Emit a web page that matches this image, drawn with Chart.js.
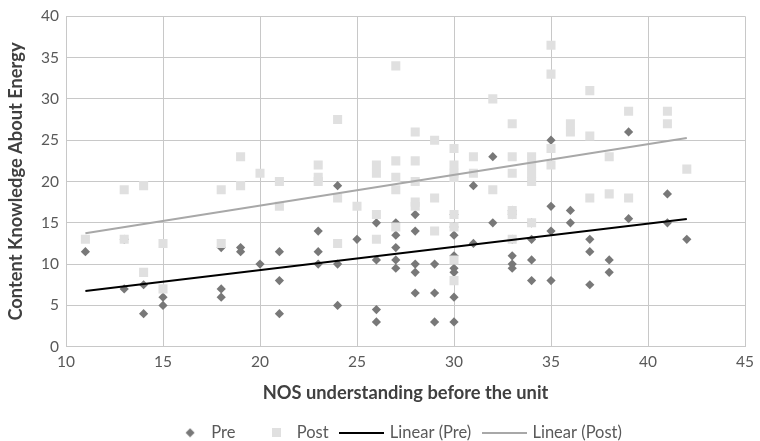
<!DOCTYPE html>
<html>
<head>
<meta charset="utf-8">
<script src="https://cdn.jsdelivr.net/npm/chart.js@4.4.1/dist/chart.umd.min.js"></script>
<style>
  html, body { margin: 0; padding: 0; background: #fff; }
</style>
</head>
<body>
<canvas id="energyChart" width="760" height="441"></canvas>
<script>
// NOS score before the unit (x) and content knowledge score (y)
var preX = [11, 13, 13, 14, 14, 15, 15, 18, 18, 18, 19, 19, 20, 21, 21, 21,
  23, 23, 23, 24, 24, 24, 25, 26, 26, 26, 26, 27, 27, 27, 27, 27,
  28, 28, 28, 28, 28, 29, 29, 29, 30, 30, 30, 30, 30, 30, 30, 30,
  31, 31, 32, 32, 33, 33, 33, 33, 33, 33, 34, 34, 34, 34, 34,
  35, 35, 35, 35, 36, 36, 37, 37, 37, 38, 38, 39, 39, 41, 41, 42];
var preY = [11.5, 7, 13, 7.5, 4, 6, 5, 12, 7, 6, 12, 11.5, 10, 11.5, 8, 4,
  14, 11.5, 10, 19.5, 10, 5, 13, 15, 10.5, 4.5, 3, 15, 13.5, 12, 10.5, 9.5,
  16, 14, 10, 9, 6.5, 10, 6.5, 3, 16, 14.5, 13.5, 11, 9.5, 9, 6, 3,
  19.5, 12.5, 23, 15, 16.5, 16, 13, 11, 10, 9.5, 20, 15, 13, 10.5, 8,
  25, 17, 14, 8, 16.5, 15, 13, 11.5, 7.5, 10.5, 9, 26, 15.5, 18.5, 15, 13];

var postX = [11, 13, 13, 14, 14, 15, 15, 18, 18, 19, 19, 20, 21, 21,
  23, 23, 23, 24, 24, 24, 25, 26, 26, 26, 26, 27, 27, 27, 27, 27,
  28, 28, 28, 28, 28, 29, 29, 29, 30, 30, 30, 30, 30, 30, 30, 30,
  31, 31, 32, 32, 33, 33, 33, 33, 33, 33, 34, 34, 34, 34, 34,
  35, 35, 35, 35, 36, 36, 37, 37, 37, 38, 38, 39, 39, 41, 41, 42];
var postY = [13, 19, 13, 19.5, 9, 12.5, 7, 19, 12.5, 23, 19.5, 21, 20, 17,
  22, 20.5, 20, 27.5, 18, 12.5, 17, 22, 21, 16, 13, 34, 22.5, 20.5, 19, 14.5,
  26, 22.5, 20, 17.5, 17, 25, 18, 14, 24, 22, 21, 20.5, 16, 14.5, 10.5, 8,
  23, 21, 30, 19, 27, 23, 21, 16.5, 16, 13, 23, 22, 21, 20, 15,
  36.5, 33, 24, 22, 27, 26, 31, 25.5, 18, 23, 18.5, 28.5, 18, 28.5, 27, 21.5];

var seriesNames = ['Pre', 'Post', 'Linear (Pre)', 'Linear (Post)'];
var xTicks = [10, 15, 20, 25, 30, 35, 40, 45];
var yTicks = [0, 5, 10, 15, 20, 25, 30, 35, 40];

function toPoints(xs, ys) {
  return xs.map(function (x, i) { return {x: x, y: ys[i]}; });
}

// least squares line over the range of x, like a spreadsheet trendline
function trend(xs, ys) {
  var n = xs.length, sx = 0, sy = 0, sxy = 0, sxx = 0;
  for (var i = 0; i < n; i++) {
    sx += xs[i]; sy += ys[i]; sxy += xs[i] * ys[i]; sxx += xs[i] * xs[i];
  }
  var slope = (n * sxy - sx * sy) / (n * sxx - sx * sx);
  var icpt = (sy - slope * sx) / n;
  var lo = Math.min.apply(null, xs), hi = Math.max.apply(null, xs);
  return [{x: lo, y: icpt + slope * lo}, {x: hi, y: icpt + slope * hi}];
}

var preColor = '#787878', postColor = '#e0e0e0';
var preLine = '#000000', postLine = '#a8a8a8';
var textColor = '#595959';

// legend symbols, drawn a little right of the box centre so they sit close to the text
function icon(kind, color) {
  var c = document.createElement('canvas');
  var g = c.getContext('2d');
  if (kind === 'diamond') {
    c.width = 24; c.height = 10;
    g.fillStyle = color;
    g.beginPath();
    g.moveTo(19, 0.5); g.lineTo(23.5, 5); g.lineTo(19, 9.5); g.lineTo(14.5, 5);
    g.closePath(); g.fill();
  } else if (kind === 'square') {
    c.width = 25; c.height = 9;
    g.fillStyle = color;
    g.fillRect(16, 0, 9, 9);
  } else {
    c.width = 45; c.height = 2;
    g.fillStyle = color;
    g.fillRect(0, 0, 45, 2);
  }
  return c;
}
var legendIcons = [icon('diamond', preColor), icon('square', postColor),
  icon('line', preLine), icon('line', postLine)];

var legendNudge = {
  id: 'legendNudge',
  afterLayout: function (chart) {
    chart.legend.left -= 13;
    chart.legend.right -= 13;
  }
};

Chart.defaults.font.family = 'Lato';

var ctx = document.getElementById('energyChart').getContext('2d');
var energyChart = new Chart(ctx, {
  type: 'scatter',
  data: {
    datasets: [{
      label: seriesNames[0],
      data: toPoints(preX, preY),
      pointStyle: 'rectRot',
      pointRadius: 4.6,
      backgroundColor: preColor,
      borderWidth: 0,
      order: 4
    }, {
      label: seriesNames[1],
      data: toPoints(postX, postY),
      pointStyle: 'rect',
      pointRadius: 6.4,
      backgroundColor: postColor,
      borderWidth: 0,
      order: 3
    }, {
      label: seriesNames[2],
      data: trend(preX, preY),
      showLine: true,
      borderColor: preLine,
      borderWidth: 2,
      pointRadius: 0,
      order: 2
    }, {
      label: seriesNames[3],
      data: trend(postX, postY),
      showLine: true,
      borderColor: postLine,
      borderWidth: 2,
      pointRadius: 0,
      order: 1
    }]
  },
  options: {
    responsive: false,
    animation: false,
    events: [],
    layout: {
      padding: {top: 16, right: 9.5, bottom: -10, left: 0}
    },
    plugins: {
      tooltip: {enabled: false},
      legend: {
        position: 'bottom',
        fullSize: false,
        labels: {
          usePointStyle: true,
          pointStyleWidth: 40,
          boxWidth: 40,
          padding: 13,
          color: textColor,
          font: {size: 16.5},
          generateLabels: function (chart) {
            return chart.data.datasets.map(function (ds, i) {
              return {
                text: ds.label,
                pointStyle: legendIcons[i],
                fillStyle: '#fff',
                strokeStyle: '#fff',
                lineWidth: 0,
                hidden: false,
                datasetIndex: i,
                fontColor: textColor
              };
            });
          }
        }
      }
    },
    scales: {
      x: {
        type: 'linear',
        min: 10,
        max: 45,
        afterBuildTicks: function (s) {
          s.ticks = xTicks.map(function (v) { return {value: v}; });
        },
        afterFit: function (s) { s.height = 64.8; },
        ticks: {color: textColor, font: {size: 15.5}, padding: 6},
        grid: {color: '#c8c8c8', drawTicks: false},
        border: {color: '#c8c8c8'},
        title: {
          display: true,
          text: 'NOS understanding before the unit',
          color: '#404040',
          font: {size: 18.3, weight: 'bold'},
          padding: {top: 0, bottom: 7.5}
        }
      },
      y: {
        type: 'linear',
        min: 0,
        max: 40,
        afterBuildTicks: function (s) {
          s.ticks = yTicks.map(function (v) { return {value: v}; });
        },
        afterFit: function (s) { s.width = 66; },
        ticks: {color: textColor, font: {size: 15.5}, padding: 7},
        grid: {color: '#c8c8c8', drawTicks: false},
        border: {color: '#c8c8c8'},
        title: {
          display: true,
          text: 'Content Knowledge About Energy',
          color: '#404040',
          font: {size: 18.3, weight: 'bold'},
          padding: {top: 5.5, bottom: 0}
        }
      }
    }
  },
  plugins: [legendNudge]
});
</script>
</body>
</html>
